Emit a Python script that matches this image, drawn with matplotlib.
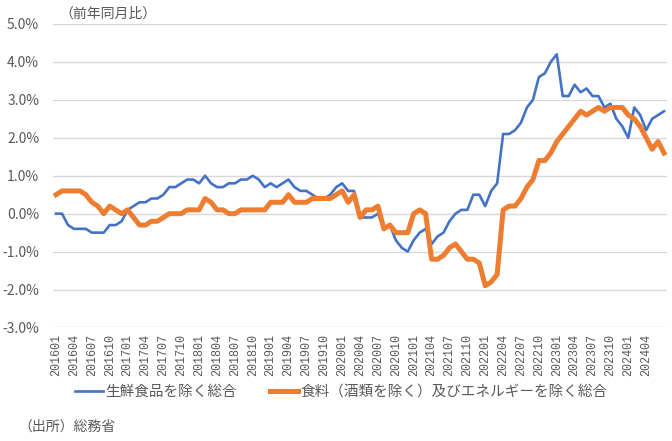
import matplotlib
matplotlib.use("Agg")
import matplotlib.pyplot as plt
import numpy as np

plt.rcParams['font.family'] = ['Noto Sans CJK JP', 'DejaVu Sans']

# months 201601 .. 202407
months = [f"{y}{m:02d}" for y in range(2016, 2025) for m in range(1, 13)][:103]

# 生鮮食品を除く総合 (y/y, %)
core = [
    0.0, 0.0, -0.3, -0.4, -0.4, -0.4, -0.5, -0.5, -0.5, -0.3, -0.3, -0.2,   # 2016
    0.1, 0.2, 0.3, 0.3, 0.4, 0.4, 0.5, 0.7, 0.7, 0.8, 0.9, 0.9,             # 2017
    0.8, 1.0, 0.8, 0.7, 0.7, 0.8, 0.8, 0.9, 0.9, 1.0, 0.9, 0.7,             # 2018
    0.8, 0.7, 0.8, 0.9, 0.7, 0.6, 0.6, 0.5, 0.4, 0.4, 0.5, 0.7,             # 2019
    0.8, 0.6, 0.6, -0.1, -0.1, -0.1, 0.0, -0.4, -0.3, -0.7, -0.9, -1.0,     # 2020
    -0.7, -0.5, -0.4, -0.8, -0.6, -0.5, -0.2, 0.0, 0.1, 0.1, 0.5, 0.5,      # 2021
    0.2, 0.6, 0.8, 2.1, 2.1, 2.2, 2.4, 2.8, 3.0, 3.6, 3.7, 4.0,             # 2022
    4.2, 3.1, 3.1, 3.4, 3.2, 3.3, 3.1, 3.1, 2.8, 2.9, 2.5, 2.3,             # 2023
    2.0, 2.8, 2.6, 2.2, 2.5, 2.6, 2.7,                                      # 2024
]

# 食料（酒類を除く）及びエネルギーを除く総合 (y/y, %)
core_core = [
    0.5, 0.6, 0.6, 0.6, 0.6, 0.5, 0.3, 0.2, 0.0, 0.2, 0.1, 0.0,             # 2016
    0.1, -0.1, -0.3, -0.3, -0.2, -0.2, -0.1, 0.0, 0.0, 0.0, 0.1, 0.1,       # 2017
    0.1, 0.4, 0.3, 0.1, 0.1, 0.0, 0.0, 0.1, 0.1, 0.1, 0.1, 0.1,             # 2018
    0.3, 0.3, 0.3, 0.5, 0.3, 0.3, 0.3, 0.4, 0.4, 0.4, 0.4, 0.5,             # 2019
    0.6, 0.3, 0.5, -0.1, 0.1, 0.1, 0.2, -0.4, -0.3, -0.5, -0.5, -0.5,       # 2020
    0.0, 0.1, 0.0, -1.2, -1.2, -1.1, -0.9, -0.8, -1.0, -1.2, -1.2, -1.3,    # 2021
    -1.9, -1.8, -1.6, 0.1, 0.2, 0.2, 0.4, 0.7, 0.9, 1.4, 1.4, 1.6,          # 2022
    1.9, 2.1, 2.3, 2.5, 2.7, 2.6, 2.7, 2.8, 2.7, 2.8, 2.8, 2.8,             # 2023
    2.6, 2.5, 2.3, 2.0, 1.7, 1.9, 1.6,                                      # 2024
]

labels = ["生鮮食品を除く総合", "食料（酒類を除く）及びエネルギーを除く総合"]
yticks = [-3, -2, -1, 0, 1, 2, 3, 4, 5]

text_color = "#595959"

fig = plt.figure(figsize=(6.72, 4.41), dpi=100)
ax = fig.add_axes([0.079, 0.2574, 0.9136, 0.6882])

x = np.arange(len(months))
ax.plot(x, core, color="#4472C4", lw=1.9, label=labels[0], zorder=3)
ax.plot(x, core_core, color="#ED7D31", lw=3.6, label=labels[1], zorder=4)

ax.set_xlim(-0.5, len(months) - 0.5)
ax.set_ylim(-3, 5)
ax.set_yticks(yticks)
ax.set_yticklabels([f"{v:.1f}%" for v in yticks], fontsize=10, color=text_color)
# every 3rd month, the last label (202407) is not shown in the original
ax.set_xticks(x[:100:3])
ax.set_xticklabels(months[:100:3], rotation=90, fontsize=8.5, color=text_color,
                   family="Liberation Mono")
ax.tick_params(axis="both", length=0)
ax.tick_params(axis="y", pad=10)
ax.tick_params(axis="x", pad=5)
ax.grid(axis="y", color="#d9d9d9", lw=1)
ax.set_axisbelow(True)
for s in ax.spines.values():
    s.set_visible(False)

fig.text(0.089, 0.968, "（前年同月比）", fontsize=10, color=text_color, va="center")
fig.text(0.028, 0.032, "（出所）総務省", fontsize=10, color=text_color, va="center")

fig.legend(loc="center", bbox_to_anchor=(0.508, 0.111), ncol=2, frameon=False,
           fontsize=10.5, labelcolor=text_color, handlelength=1.9,
           handletextpad=0.15, columnspacing=2.3)

fig.savefig("out.png", dpi=100)
